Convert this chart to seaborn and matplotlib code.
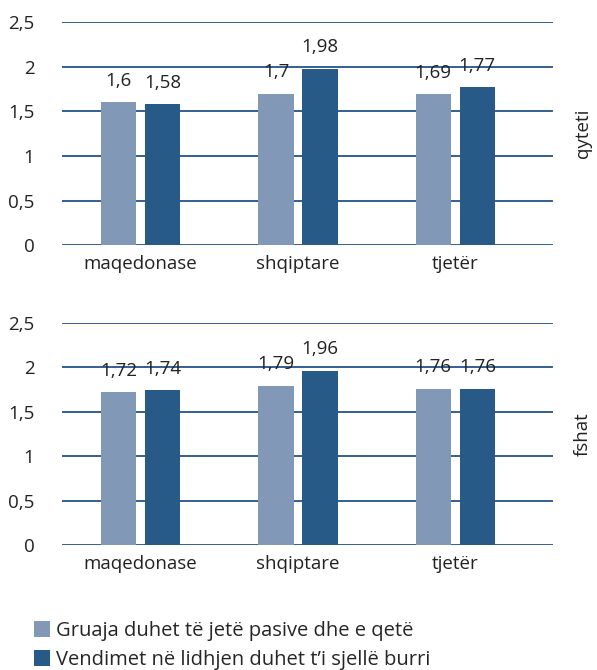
import matplotlib
matplotlib.use("Agg")
import matplotlib.pyplot as plt
import seaborn as sns
import pandas as pd

categories = ["maqedonase", "shqiptare", "tjetër"]
series_names = ["Gruaja duhet të jetë pasive dhe e qetë",
                "Vendimet në lidhjen duhet t\u2019i sjellë burri"]
qyteti_s1 = [1.6, 1.7, 1.69]
qyteti_s2 = [1.58, 1.98, 1.77]
fshat_s1 = [1.72, 1.79, 1.76]
fshat_s2 = [1.74, 1.96, 1.76]
panel_labels = ["qyteti", "fshat"]
yticks = [0, 0.5, 1, 1.5, 2, 2.5]
ytick_labels = ["0", "0,5", "1", "1,5", "2", "2,5"]

colors = ["#8298b7", "#285a88"]
grid_color = "#335f8f"
fs = 13.5

sns.set_theme(style="white")
plt.rcParams["font.family"] = ["Open Sans", "DejaVu Sans"]

fig = plt.figure(figsize=(5.97, 6.70), dpi=100)
ax_top = fig.add_axes([0.104, 0.634, 0.822, 0.333])
ax_bot = fig.add_axes([0.104, 0.1866, 0.822, 0.3314])

def fmt(v):
    s = f"{v:.2f}".rstrip("0").rstrip(".")
    return s.replace(".", ",")

for ax, s1, s2, lab in [(ax_top, qyteti_s1, qyteti_s2, panel_labels[0]),
                        (ax_bot, fshat_s1, fshat_s2, panel_labels[1])]:
    df = pd.DataFrame({
        "cat": categories * 2,
        "val": s1 + s2,
        "series": [series_names[0]] * 3 + [series_names[1]] * 3,
    })
    sns.barplot(data=df, x="cat", y="val", hue="series", order=categories,
                hue_order=series_names, palette=colors, width=0.56, gap=0.2,
                ax=ax, legend=False, saturation=1, edgecolor="none")
    for c in ax.containers:
        ax.bar_label(c, labels=[fmt(v) for v in c.datavalues], padding=9,
                     fontsize=fs, color="#222222")
    ax.set_ylim(0, 2.5)
    ax.set_xlim(-0.5, 2.62)
    ax.set_yticks(yticks)
    ax.set_yticklabels(ytick_labels)
    ax.yaxis.grid(True, color=grid_color, linewidth=1.4)
    ax.set_axisbelow(True)
    for sp in ax.spines.values():
        sp.set_visible(False)
    ax.tick_params(axis="both", length=0, labelsize=fs, colors="#222222")
    ax.tick_params(axis="y", pad=20)
    ax.tick_params(axis="x", pad=7)
    ax.set_xlabel("")
    ax.set_ylabel("")
    ax.text(1.062, 0.5, lab, transform=ax.transAxes, rotation=90,
            va="center", ha="center", fontsize=fs, color="#222222")

from matplotlib.patches import Patch
handles = [Patch(facecolor=colors[0], edgecolor="none"),
           Patch(facecolor=colors[1], edgecolor="none")]
fig.legend(handles, series_names, loc="upper left",
           bbox_to_anchor=(0.043, 0.085), frameon=False,
           fontsize=14.5, handlelength=0.8, handleheight=0.8,
           handletextpad=0.3, labelspacing=0.45, borderaxespad=0)

fig.savefig("out.png", dpi=100)
